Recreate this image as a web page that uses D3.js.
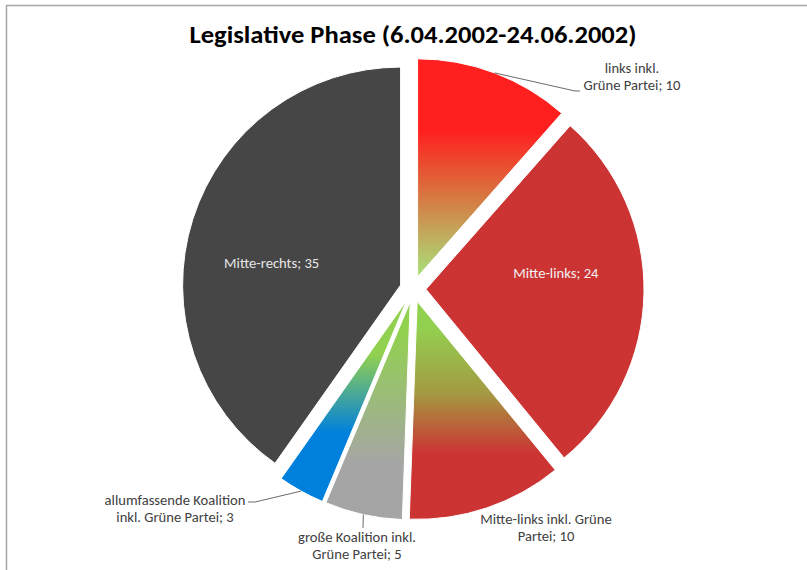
<!DOCTYPE html>
<html>
<head>
<meta charset="utf-8">
<script src="https://cdn.jsdelivr.net/npm/d3@7"></script>
<style>
  html, body { margin: 0; padding: 0; background: #fff; }
  svg { display: block; }
  text { font-family: Carlito, Calibri, Lato, "Open Sans", sans-serif; }
</style>
</head>
<body>
<svg id="chart" width="807" height="570"></svg>
<script>
// Coalition types during the legislative phase and number of cases each
const categories = [
  "links inkl. Grüne Partei",
  "Mitte-links",
  "Mitte-links inkl. Grüne Partei",
  "große Koalition inkl. Grüne Partei",
  "allumfassende Koalition inkl. Grüne Partei",
  "Mitte-rechts"
];
const values = [10, 24, 10, 5, 3, 35];

// Label lines, split as they wrap in the chart
const labelLines = [
  ["links inkl.", "Grüne Partei; 10"],
  ["Mitte-links; 24"],
  ["Mitte-links inkl. Grüne", "Partei; 10"],
  ["große Koalition inkl.", "Grüne Partei; 5"],
  ["allumfassende Koalition", "inkl. Grüne Partei; 3"],
  ["Mitte-rechts; 35"]
];

const title = "Legislative Phase (6.04.2002-24.06.2002)";

// Fill per slice: gradient stops from top to bottom of the slice
const fills = [
  [[0, "#ff1f1f"], [0.33, "#ff1f1f"], [0.62, "#d9743f"], [1, "#a8e27c"]],
  [[0, "#cc3333"], [1, "#cc3333"]],
  [[0, "#92d050"], [0.12, "#92d050"], [0.42, "#a49a42"], [0.7, "#cc3333"], [1, "#cc3333"]],
  [[0, "#92d050"], [0.15, "#92d050"], [0.75, "#a5a5a5"], [1, "#a5a5a5"]],
  [[0, "#92d050"], [0.27, "#92d050"], [0.66, "#0080dd"], [1, "#0080dd"]],
  [[0, "#464646"], [1, "#464646"]]
];

// Label placement: inside labels at a fraction of the radius (angle nudged
// counter-clockwise, in degrees), outside ones at a fixed spot with a leader
const labelLayout = [
  { x: 632, y: 73, inside: false, leader: [[575, 91], [580, 91]] },
  { inside: true, r: 0.6, shift: -8, color: "#f2f2f2" },
  { x: 546, y: 524, inside: false, leader: null },
  { x: 357, y: 542, inside: false, leader: [[363, 528]] },
  { x: 175, y: 505, inside: false, leader: [[255, 502], [248, 502]] },
  { inside: true, r: 0.6, shift: -8, color: "#e6e6e6" }
];

const W = 807, H = 570;
const cx = 413, cy = 289, R = 218, explode = 13;
const labelSize = 14.6, lineGap = 17;

const svg = d3.select("#chart");

// Chart area outline
svg.append("rect")
  .attr("x", 6.5).attr("y", 5.5)
  .attr("width", W + 20).attr("height", H + 20)
  .attr("fill", "#fff")
  .attr("stroke", "#a6a6a6")
  .attr("stroke-width", 1.5);

// Title, condensed to the chart's title width
svg.append("text")
  .attr("x", cx).attr("y", 43)
  .attr("text-anchor", "middle")
  .attr("font-size", 25)
  .attr("font-weight", "bold")
  .attr("fill", "#000")
  .attr("textLength", 447)
  .attr("lengthAdjust", "spacingAndGlyphs")
  .text(title);

const defs = svg.append("defs");
fills.forEach((stops, i) => {
  const g = defs.append("linearGradient")
    .attr("id", "fill" + i)
    .attr("x1", 0).attr("y1", 0).attr("x2", 0).attr("y2", 1);
  stops.forEach(([o, c]) => g.append("stop").attr("offset", o).attr("stop-color", c));
});

const pie = d3.pie().sort(null).value(d => d)(values);
const arc = d3.arc().innerRadius(0).outerRadius(R);

const mid = d => (d.startAngle + d.endAngle) / 2;
// Unit vector for a pie angle (0 = 12 o'clock, clockwise)
const dir = a => [Math.sin(a), -Math.cos(a)];

const g = svg.append("g").attr("transform", `translate(${cx},${cy})`);

const slices = g.selectAll("g.slice").data(pie).join("g")
  .attr("class", "slice")
  .attr("transform", d => {
    const [ux, uy] = dir(mid(d));
    return `translate(${ux * explode},${uy * explode})`;
  });

slices.append("path")
  .attr("d", arc)
  .attr("fill", (d, i) => `url(#fill${i})`)
  .attr("stroke", "#fff")
  .attr("stroke-width", 1);

// Labels
pie.forEach((d, i) => {
  const lay = labelLayout[i];
  const lines = labelLines[i];
  const [ux, uy] = dir(mid(d));
  const ox = cx + ux * explode, oy = cy + uy * explode;
  let x, y, color;
  if (lay.inside) {
    const [lx, ly] = dir(mid(d) + lay.shift * Math.PI / 180);
    x = ox + lx * R * lay.r;
    y = oy + ly * R * lay.r + 5;
    color = lay.color;
  } else {
    x = lay.x; y = lay.y; color = "#404040";
    if (lay.leader) {
      const start = [ox + ux * R, oy + uy * R];
      svg.append("polyline")
        .attr("points", [start, ...lay.leader].map(p => p.join(",")).join(" "))
        .attr("fill", "none")
        .attr("stroke", "#595959")
        .attr("stroke-width", 0.9);
    }
  }
  const t = svg.append("text")
    .attr("x", x).attr("y", y)
    .attr("text-anchor", "middle")
    .attr("font-size", labelSize)
    .attr("fill", color);
  lines.forEach((ln, k) => {
    t.append("tspan").attr("x", x).attr("dy", k === 0 ? 0 : lineGap).text(ln);
  });
});
</script>
</body>
</html>
